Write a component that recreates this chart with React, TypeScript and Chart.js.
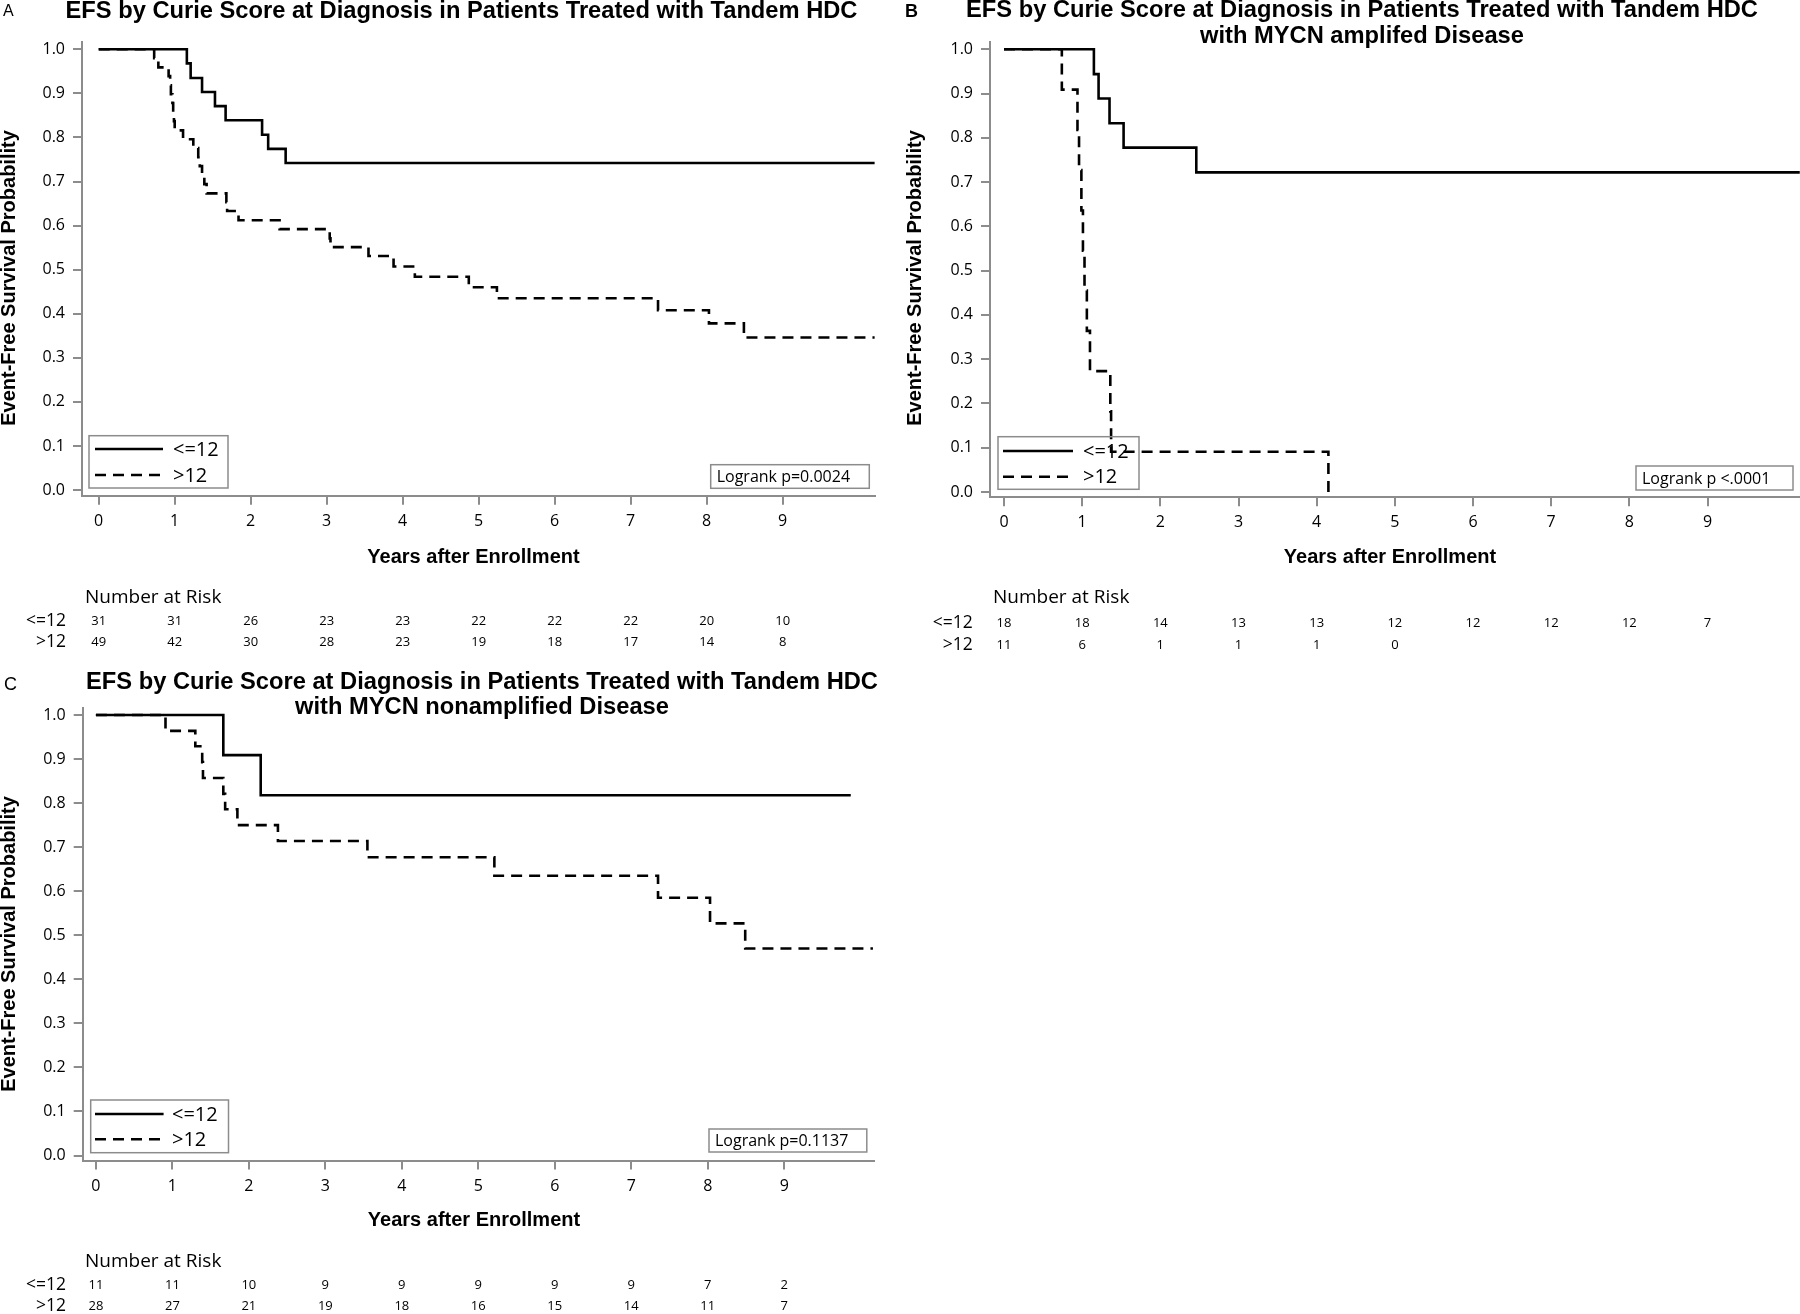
import React, { useEffect, useRef } from 'react';
import { Chart, registerables } from 'chart.js';

Chart.register(...registerables);

// ---------- shared labels / ticks ----------
const seriesLabels = ['<=12', '>12'];
const xTickValues = [0, 1, 2, 3, 4, 5, 6, 7, 8, 9];
const yTickValues = [0, 0.1, 0.2, 0.3, 0.4, 0.5, 0.6, 0.7, 0.8, 0.9, 1.0];
const riskTimes = [0, 1, 2, 3, 4, 5, 6, 7, 8, 9];
const xAxisTitle = 'Years after Enrollment';
const yAxisTitle = 'Event-Free Survival Probability';
const riskHeader = 'Number at Risk';
const panelLetters = ['A', 'B', 'C'];

// ---------- Panel A ----------
const titleA = ['EFS by Curie Score at Diagnosis in Patients Treated with Tandem HDC'];
const logrankA = 'Logrank p=0.0024';
const aLowTimes = [0, 1.16, 1.21, 1.36, 1.53, 1.67, 2.15, 2.23, 2.46, 10.21];
const aLowSurv = [1, 0.968, 0.935, 0.903, 0.871, 0.839, 0.806, 0.774, 0.742, 0.742];
const aHighTimes = [0, 0.73, 0.785, 0.92, 0.94, 0.95, 0.97, 0.98, 0.99, 1.0, 1.11, 1.245, 1.31, 1.33, 1.36, 1.39, 1.42, 1.68, 1.69, 1.84, 2.38, 3.04, 3.05, 3.55, 3.88, 4.16, 4.87, 5.24, 7.36, 8.03, 8.49, 10.21];
const aHighSurv = [1, 0.98, 0.959, 0.939, 0.918, 0.898, 0.878, 0.857, 0.837, 0.816, 0.796, 0.776, 0.755, 0.735, 0.714, 0.694, 0.673, 0.653, 0.633, 0.612, 0.592, 0.571, 0.551, 0.531, 0.507, 0.484, 0.46, 0.435, 0.408, 0.378, 0.346, 0.346];
const riskALow = [31, 31, 26, 23, 23, 22, 22, 22, 20, 10];
const riskAHigh = [49, 42, 30, 28, 23, 19, 18, 17, 14, 8];

// ---------- Panel B ----------
const titleB = ['EFS by Curie Score at Diagnosis in Patients Treated with Tandem HDC', 'with MYCN amplifed Disease'];
const logrankB = 'Logrank p <.0001';
const bLowTimes = [0, 1.15, 1.21, 1.35, 1.53, 2.46, 10.18];
const bLowSurv = [1, 0.944, 0.889, 0.833, 0.778, 0.722, 0.722];
const bHighTimes = [0, 0.74, 0.94, 0.96, 0.99, 1.01, 1.03, 1.06, 1.1, 1.36, 1.37, 4.15];
const bHighSurv = [1, 0.909, 0.818, 0.727, 0.636, 0.545, 0.455, 0.364, 0.273, 0.182, 0.091, 0];
const riskBLow = [18, 18, 14, 13, 13, 12, 12, 12, 12, 7];
const riskBHigh = [11, 6, 1, 1, 1, 0, null, null, null, null];

// ---------- Panel C ----------
const titleC = ['EFS by Curie Score at Diagnosis in Patients Treated with Tandem HDC', 'with MYCN nonamplified Disease'];
const logrankC = 'Logrank p=0.1137';
const cLowTimes = [0, 1.666, 2.155, 9.87];
const cLowSurv = [1, 0.909, 0.818, 0.818];
const cHighTimes = [0, 0.91, 1.3, 1.39, 1.4, 1.666, 1.69, 1.85, 2.38, 3.55, 5.21, 7.35, 8.03, 8.49, 10.16];
const cHighSurv = [1, 0.964, 0.929, 0.893, 0.857, 0.821, 0.786, 0.75, 0.714, 0.677, 0.635, 0.585, 0.527, 0.47, 0.47];
const riskCLow = [11, 11, 10, 9, 9, 9, 9, 9, 7, 2];
const riskCHigh = [28, 27, 21, 19, 18, 16, 15, 14, 11, 7];

// ---------- layout (positions / styles only) ----------
const AXIS_GRAY = '#8c8c8c';
const TICK_FONT = '"Open Sans", "DejaVu Sans", sans-serif';
const BOLD_FONT = '"Liberation Sans", Arial, sans-serif';

const panels = [
  {
    key: 'A', left: 0, top: 0, width: 890, height: 660,
    area: { left: 82, right: 875, top: 41.7, bottom: 495.7 },
    xRange: [-0.2197, 10.215], yRange: [-0.0129, 1.0172],
    letter: { text: panelLetters[0], x: 3, y: 12, font: '16px "Liberation Sans Narrow", "Liberation Sans", sans-serif' },
    title: titleA, titleX: 461.5, titleY: [11.5],
    yTitle: [9, 278], xTitle: [473.5, 557],
    legendBox: [89, 435.7, 228, 488], legendRows: [449, 475], legendLineX: [95, 163], legendTextX: 173,
    logBox: [710.7, 464.7, 869.3, 488.3], logText: logrankA,
    risk: { headX: 85, headY: 598, labelX: 66, rowY: [621, 642] },
    lowT: aLowTimes, lowS: aLowSurv, highT: aHighTimes, highS: aHighSurv,
    riskLow: riskALow, riskHigh: riskAHigh,
  },
  {
    key: 'B', left: 890, top: 0, width: 910, height: 660,
    area: { left: 100, right: 910, top: 41.7, bottom: 497.3 },
    xRange: [-0.179, 10.183], yRange: [-0.012, 1.0172],
    letter: { text: panelLetters[1], x: 15, y: 12, font: 'bold 18px "Liberation Sans", sans-serif' },
    title: titleB, titleX: 472, titleY: [10.5, 36],
    yTitle: [25, 278], xTitle: [500, 557],
    legendBox: [108, 436.7, 249, 489.3], legendRows: [451, 476.7], legendLineX: [113, 183], legendTextX: 193,
    logBox: [746, 466, 903, 490], logText: logrankB,
    risk: { headX: 103, headY: 598, labelX: 82.7, rowY: [623, 645] },
    lowT: bLowTimes, lowS: bLowSurv, highT: bHighTimes, highS: bHighSurv,
    riskLow: riskBLow, riskHigh: riskBHigh,
  },
  {
    key: 'C', left: 0, top: 660, width: 890, height: 654,
    area: { left: 82.7, right: 873.7, top: 47.7, bottom: 500.5 },
    xRange: [-0.1726, 10.17], yRange: [-0.01135, 1.0166],
    letter: { text: panelLetters[2], x: 4, y: 25, font: '18px "Liberation Sans", sans-serif' },
    title: titleC, titleX: 482, titleY: [22.5, 47.5],
    yTitle: [9, 284], xTitle: [474, 560],
    legendBox: [90.7, 440, 228.5, 492.7], legendRows: [454, 479.3], legendLineX: [95, 163.6], legendTextX: 172,
    logBox: [709, 469, 866.8, 492], logText: logrankC,
    risk: { headX: 85, headY: 601.7, labelX: 66, rowY: [625, 646.5] },
    lowT: cLowTimes, lowS: cLowSurv, highT: cHighTimes, highS: cHighSurv,
    riskLow: riskCLow, riskHigh: riskCHigh,
  },
];

const DASH = [11, 7];
const LINE_W = 2.6;

function toPoints(t: number[], s: number[]) {
  return t.map((x, i) => ({ x, y: s[i] }));
}

function makeDecor(p: any) {
  return {
    id: 'kmDecor' + p.key,
    afterDraw(chart: any) {
      const ctx = chart.ctx as CanvasRenderingContext2D;
      ctx.save();
      ctx.fillStyle = '#000';
      ctx.textBaseline = 'middle';

      // panel letter
      ctx.font = p.letter.font;
      ctx.textAlign = 'left';
      ctx.fillText(p.letter.text, p.letter.x, p.letter.y);

      // title
      ctx.font = `bold 23.7px ${BOLD_FONT}`;
      ctx.textAlign = 'center';
      p.title.forEach((line: string, i: number) => ctx.fillText(line, p.titleX, p.titleY[i]));

      // axis titles
      ctx.font = `bold 20px ${BOLD_FONT}`;
      ctx.fillText(xAxisTitle, p.xTitle[0], p.xTitle[1]);
      ctx.save();
      ctx.translate(p.yTitle[0], p.yTitle[1]);
      ctx.rotate(-Math.PI / 2);
      ctx.fillText(yAxisTitle, 0, 0);
      ctx.restore();

      // legend box
      const [lx0, ly0, lx1, ly1] = p.legendBox;
      ctx.strokeStyle = AXIS_GRAY;
      ctx.lineWidth = 1.5;
      ctx.strokeRect(lx0, ly0, lx1 - lx0, ly1 - ly0);
      ctx.strokeStyle = '#000';
      ctx.lineWidth = LINE_W;
      ctx.lineCap = 'butt';
      ctx.font = `20px ${TICK_FONT}`;
      ctx.textAlign = 'left';
      p.legendRows.forEach((y: number, i: number) => {
        ctx.setLineDash(i === 0 ? [] : DASH);
        ctx.beginPath();
        ctx.moveTo(p.legendLineX[0], y);
        ctx.lineTo(p.legendLineX[1], y);
        ctx.stroke();
        ctx.fillText(seriesLabels[i], p.legendTextX, y + 1);
      });
      ctx.setLineDash([]);

      // logrank box
      const [gx0, gy0, gx1, gy1] = p.logBox;
      ctx.strokeStyle = AXIS_GRAY;
      ctx.lineWidth = 1.5;
      ctx.strokeRect(gx0, gy0, gx1 - gx0, gy1 - gy0);
      ctx.font = `16px ${TICK_FONT}`;
      ctx.textAlign = 'left';
      ctx.fillText(p.logText, gx0 + 6, (gy0 + gy1) / 2 + 1);

      // number at risk table
      const xs = chart.scales.x;
      ctx.font = `19px ${TICK_FONT}`;
      ctx.textAlign = 'left';
      ctx.fillText(riskHeader, p.risk.headX, p.risk.headY);
      ctx.font = `17.5px ${TICK_FONT}`;
      ctx.textAlign = 'right';
      seriesLabels.forEach((lab, i) => ctx.fillText(lab, p.risk.labelX, p.risk.rowY[i]));
      ctx.font = `13px ${TICK_FONT}`;
      ctx.textAlign = 'center';
      [p.riskLow, p.riskHigh].forEach((row: (number | null)[], i: number) => {
        row.forEach((v, j) => {
          if (v === null || v === undefined) return;
          ctx.fillText(String(v), xs.getPixelForValue(riskTimes[j]), p.risk.rowY[i]);
        });
      });
      ctx.restore();
    },
  };
}

function buildChart(canvas: HTMLCanvasElement, p: any) {
  const xAxisHeight = 40;
  const yAxisWidth = p.area.left;
  const axisCommon = {
    border: { display: true, color: AXIS_GRAY, width: 2 },
    grid: { display: true, drawOnChartArea: false, drawTicks: true, tickLength: 9, color: AXIS_GRAY, lineWidth: 2 },
  };
  return new Chart(canvas, {
    type: 'line',
    data: {
      datasets: [
        {
          label: seriesLabels[0],
          data: toPoints(p.lowT, p.lowS),
          borderColor: '#000',
          borderWidth: LINE_W,
          stepped: true,
          pointRadius: 0,
          fill: false,
        },
        {
          label: seriesLabels[1],
          data: toPoints(p.highT, p.highS),
          borderColor: '#000',
          borderWidth: LINE_W,
          borderDash: DASH,
          borderCapStyle: 'butt',
          stepped: true,
          pointRadius: 0,
          fill: false,
        },
      ],
    },
    options: {
      responsive: false,
      animation: false,
      devicePixelRatio: 1,
      parsing: true,
      layout: {
        padding: {
          left: 0,
          top: p.area.top,
          right: p.width - p.area.right,
          bottom: p.height - p.area.bottom - xAxisHeight,
        },
      },
      plugins: {
        legend: { display: false },
        tooltip: { enabled: false },
        title: { display: false },
      },
      scales: {
        x: {
          type: 'linear',
          min: p.xRange[0],
          max: p.xRange[1],
          ...axisCommon,
          afterBuildTicks: (axis: any) => {
            axis.ticks = xTickValues.map((v) => ({ value: v }));
          },
          afterFit: (axis: any) => {
            axis.height = xAxisHeight;
          },
          ticks: {
            autoSkip: false,
            maxRotation: 0,
            padding: 7,
            color: '#000',
            font: { family: TICK_FONT, size: 16 },
            callback: (v: any) => String(v),
          },
        },
        y: {
          type: 'linear',
          min: p.yRange[0],
          max: p.yRange[1],
          ...axisCommon,
          afterBuildTicks: (axis: any) => {
            axis.ticks = yTickValues.map((v) => ({ value: v }));
          },
          afterFit: (axis: any) => {
            axis.width = yAxisWidth;
          },
          ticks: {
            autoSkip: false,
            padding: 8,
            color: '#000',
            font: { family: TICK_FONT, size: 16 },
            callback: (v: any) => Number(v).toFixed(1),
          },
        },
      },
    },
    plugins: [makeDecor(p)],
  } as any);
}

function KMPanel({ p }: { p: any }) {
  const ref = useRef<HTMLCanvasElement>(null);
  useEffect(() => {
    if (!ref.current) return;
    const chart = buildChart(ref.current, p);
    return () => chart.destroy();
  }, [p]);
  return (
    <canvas
      ref={ref}
      width={p.width}
      height={p.height}
      style={{ position: 'absolute', left: p.left, top: p.top, width: p.width, height: p.height }}
    />
  );
}

export default function App() {
  return (
    <div style={{ position: 'absolute', left: 0, top: 0, width: 1800, height: 1314, background: '#fff', overflow: 'hidden' }}>
      {panels.map((p) => (
        <KMPanel key={p.key} p={p} />
      ))}
    </div>
  );
}
